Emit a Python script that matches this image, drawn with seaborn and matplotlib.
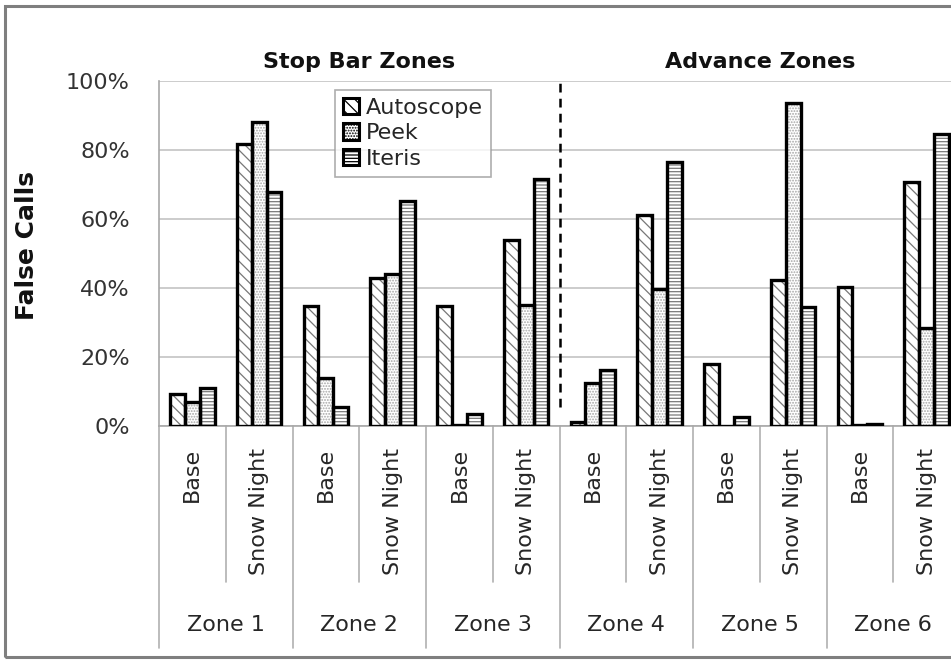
import pandas as pd
import matplotlib
matplotlib.use("Agg")
import matplotlib.pyplot as plt
import matplotlib.transforms as mtransforms
from matplotlib.patches import Patch, Rectangle
from matplotlib.ticker import PercentFormatter
import seaborn as sns

# values (false call rate, %)
zones = ["Zone 1", "Zone 2", "Zone 3", "Zone 4", "Zone 5", "Zone 6"]
conditions = ["Base", "Snow Night"]
systems = ["Autoscope", "Peek", "Iteris"]
autoscope = [9.3, 81.7, 34.9, 42.9, 34.8, 53.9, 1.2, 61.1, 18.0, 42.3, 40.4, 70.8]
peek = [7.0, 88.1, 13.9, 44.0, 0.3, 35.1, 12.5, 39.7, 0.0, 93.5, 0.2, 28.5]
iteris = [11.1, 67.9, 5.5, 65.2, 3.5, 71.6, 16.2, 76.6, 2.7, 34.4, 0.6, 84.6]
headers = ["Stop Bar Zones", "Advance Zones"]

groups = [f"{z} {c}" for z in zones for c in conditions]
rows = []
for name, vals in zip(systems, [autoscope, peek, iteris]):
    for g, v in zip(groups, vals):
        rows.append({"group": g, "system": name, "value": v / 100})
df = pd.DataFrame(rows)

sns.set_style("white")
plt.rcParams["font.family"] = ["DejaVu Sans"]
plt.rcParams["hatch.linewidth"] = 0.9

W, H = 951, 664
fig = plt.figure(figsize=(W / 100, H / 100), dpi=100)
# axes runs a little past the right edge, like the cropped original
ax = fig.add_axes([159 / W, 1 - 426 / H, 801 / W, 345 / H])

hatches = {"Autoscope": "\\\\\\", "Peek": "......", "Iteris": "-----"}
hatch_colors = {"Autoscope": "#777777", "Peek": "#a5a5a5", "Iteris": "#7a7a7a"}
sns.barplot(data=df, x="group", y="value", hue="system", order=groups,
            hue_order=systems, palette={s: "white" for s in systems},
            width=0.67, gap=0, errorbar=None, legend=False, ax=ax,
            edgecolor="#7a7a7a", linewidth=0)

for cont, name in zip(ax.containers, systems):
    for bar in cont:
        bar.set_edgecolor(hatch_colors[name])
        bar.set_linewidth(0)
        bar.set_hatch(hatches[name])
        x, y = bar.get_xy()
        ax.add_patch(Rectangle((x, y), bar.get_width(), bar.get_height(),
                               fill=False, edgecolor="black", lw=2.4, zorder=3))

ax.set_xlim(-0.5, len(groups) - 0.5)
ax.set_ylim(0, 1)
ax.set_yticks([0, 0.2, 0.4, 0.6, 0.8, 1.0])
ax.yaxis.set_major_formatter(PercentFormatter(1.0, decimals=0))
ax.grid(axis="y", color="#c4c4c4", lw=1.2)
ax.set_axisbelow(True)
for side in ["top", "right"]:
    ax.spines[side].set_visible(False)
for side in ["left", "bottom"]:
    ax.spines[side].set_color("#a8a8a8")
    ax.spines[side].set_linewidth(1.2)

ax.set_xticks(range(len(groups)))
ax.set_xticklabels(conditions * len(zones), rotation=90, fontsize=16, color="#262626")
ax.tick_params(axis="x", length=0, pad=16)
ax.tick_params(axis="y", length=8, width=1.2, color="#a8a8a8", pad=13,
               labelsize=16, labelcolor="#333333")
ax.set_xlabel("")
ax.set_ylabel("False Calls", fontsize=18, fontweight="bold", color="#111111")
ax.yaxis.set_label_coords((39 - 159) / 801, (426 - 246) / 345)

trans = mtransforms.blended_transform_factory(ax.transData, ax.transAxes)
# category separators under the axis
for i in range(len(groups) + 1):
    b = i - 0.5
    low = -0.643 if i % 2 == 0 else -0.452
    ax.plot([b, b], [0, low], color="#b0b0b0", lw=1.2, transform=trans,
            clip_on=False)
for i, z in enumerate(zones):
    ax.text(2 * i + 0.5, -0.577, z, transform=trans, ha="center", va="center",
            fontsize=16, color="#262626")

# region headers and divider
ax.text(2.5, 1.055, headers[0], transform=trans, ha="center", va="center",
        fontsize=16, fontweight="bold", color="#111111")
ax.text(8.5, 1.055, headers[1], transform=trans, ha="center", va="center",
        fontsize=16, fontweight="bold", color="#111111")
ax.plot([5.5, 5.5], [0.055, 1.0], color="black", lw=1.8, ls=(0, (3.5, 2.5)),
        transform=trans, clip_on=False, zorder=4)

handles = [Patch(facecolor="white", edgecolor="black", hatch=hatches[s], lw=2.2,
                 label=s) for s in systems]
leg = ax.legend(handles=handles, loc="upper left",
                bbox_to_anchor=((335 - 159) / 801, (426 - 90) / 345),
                borderaxespad=0, fontsize=16, frameon=True, fancybox=False,
                edgecolor="#9a9a9a", handlelength=0.75, handleheight=0.75,
                handletextpad=0.3, labelspacing=0.25, borderpad=0.35)
leg.get_frame().set_linewidth(1.2)

# outer chart frame
fig.patches.append(Rectangle((5 / W, 1 - 657 / H), 1.2, (657 - 6) / H,
                             transform=fig.transFigure, fill=False,
                             edgecolor="#7f7f7f", lw=2.2))

fig.savefig("out.png", dpi=100, facecolor="white")
